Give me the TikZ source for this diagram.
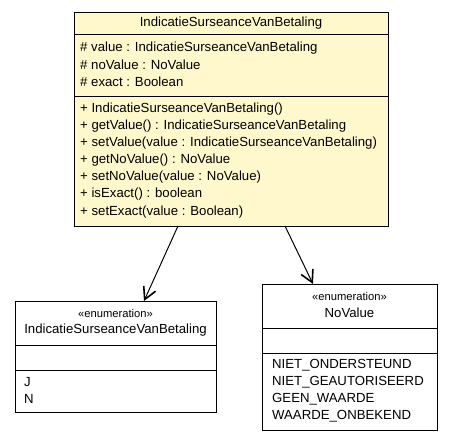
\documentclass[tikz,border=0pt]{standalone}
\usepackage{fontspec}
\setmainfont{Liberation Sans}
\usetikzlibrary{arrows.meta}
\definecolor{umlfill}{RGB}{255,248,204}
\begin{document}
\begin{tikzpicture}[x=1pt,y=-1pt,
  umlbox/.style={draw=black, line width=1pt, inner sep=0pt, anchor=north west},
  sepline/.style={draw=black, line width=1pt},
  ltxt/.style={anchor=west, inner sep=0pt, font=\fontsize{13.2}{15}\selectfont},
  ctxt/.style={anchor=center, inner sep=0pt, font=\fontsize{13.2}{15}\selectfont},
  stxt/.style={anchor=center, inner sep=0pt, font=\fontsize{11.2}{13}\selectfont},
  assoc/.style={draw=black, line width=1pt, -{Straight Barb[length=12pt,width=13pt,line width=1.6pt]}}
]
\useasboundingbox (0,0) rectangle (453,440);

% main class
\node[umlbox, fill=umlfill, minimum width=314pt, minimum height=214pt] (main) at (74,12) {};
\draw[sepline] (74,34) -- (388,34);
\draw[sepline] (74,96) -- (388,96);
\node[ctxt] (mt) at (231,23) {IndicatieSurseanceVanBetaling};
\node[ltxt] (a1) at (80,48) {\# value : IndicatieSurseanceVanBetaling};
\node[ltxt] (a2) at (80,65) {\# noValue : NoValue};
\node[ltxt] (a3) at (80,82) {\# exact : Boolean};
\node[ltxt] (m1) at (80,109) {+ IndicatieSurseanceVanBetaling()};
\node[ltxt] (m2) at (80,126) {+ getValue() : IndicatieSurseanceVanBetaling};
\node[ltxt] (m3) at (80,143) {+ setValue(value : IndicatieSurseanceVanBetaling)};
\node[ltxt] (m4) at (80,160) {+ getNoValue() : NoValue};
\node[ltxt] (m5) at (80,177) {+ setNoValue(value : NoValue)};
\node[ltxt] (m6) at (80,194) {+ isExact() : boolean};
\node[ltxt] (m7) at (80,212) {+ setExact(value : Boolean)};

% enumeration IndicatieSurseanceVanBetaling
\node[umlbox, fill=white, minimum width=201pt, minimum height=111pt] (ea) at (15,301) {};
\draw[sepline] (15,345) -- (216,345);
\draw[sepline] (15,370) -- (216,370);
\node[stxt] (eas) at (115.5,313) {«enumeration»};
\node[ctxt] (ean) at (115.5,330) {IndicatieSurseanceVanBetaling};
\node[ltxt] (ea1) at (24,382) {J};
\node[ltxt] (ea2) at (24,399) {N};

% enumeration NoValue
\node[umlbox, fill=white, minimum width=175pt, minimum height=146pt] (eb) at (262,284) {};
\draw[sepline] (262,328) -- (437,328);
\draw[sepline] (262,353) -- (437,353);
\node[stxt] (ebs) at (349.5,296) {«enumeration»};
\node[ctxt] (ebn) at (349.5,313) {NoValue};
\node[ltxt] (eb1) at (272,365) {NIET\_ONDERSTEUND};
\node[ltxt] (eb2) at (272,382) {NIET\_GEAUTORISEERD};
\node[ltxt] (eb3) at (272,399) {GEEN\_WAARDE};
\node[ltxt] (eb4) at (272,416) {WAARDE\_ONBEKEND};

% associations
\coordinate (s1) at (178,226);
\coordinate (t1) at (144,301);
\coordinate (s2) at (285,226);
\coordinate (t2) at (313,284);
\draw[assoc] (s1) -- (t1);
\draw[assoc] (s2) -- (t2);
\end{tikzpicture}
\end{document}
